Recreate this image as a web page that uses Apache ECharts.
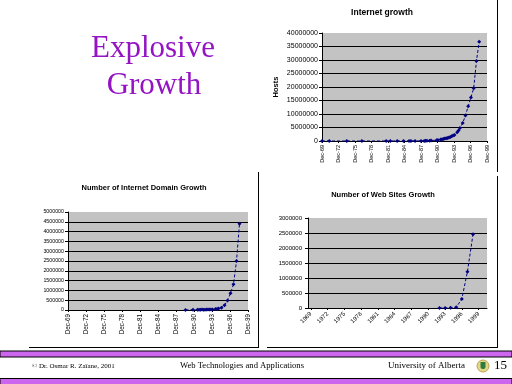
<!DOCTYPE html>
<html><head><meta charset="utf-8">
<script src="https://cdn.jsdelivr.net/npm/echarts@6/dist/echarts.min.js"></script>
<style>html,body{margin:0;padding:0;background:#fff}#c{width:512px;height:384px}</style>
</head><body><div id="c"></div>
<script>
// ---- Internet hosts (top chart) ----
const hostDates = ['1969-12','1971-04','1974-06','1977-03','1981-08','1982-05','1983-08','1984-10','1985-10','1986-02','1986-11','1987-12','1988-07','1988-10','1989-01','1989-07','1989-10','1990-10','1991-01','1991-07','1991-10','1992-01','1992-04','1992-07','1992-10','1993-01','1993-04','1993-07','1993-10','1994-01','1994-07','1994-10','1995-01','1995-07','1996-01','1996-07','1997-01','1997-07','1998-01','1998-07'];
const hostValues = [4,23,62,111,213,235,562,1024,1961,2308,5089,28174,33000,56000,80000,130000,159000,313000,376000,535000,617000,727000,890000,992000,1136000,1313000,1486000,1776000,2056000,2217000,3212000,3864000,4852000,6642000,9472000,12881000,16146000,19540000,29670000,36739000];
const dateTicks = ['Dec-69','Dec-72','Dec-75','Dec-78','Dec-81','Dec-84','Dec-87','Dec-90','Dec-93','Dec-96','Dec-99'];

// ---- Internet domains (bottom-left chart) ----
const domainDates = ['1989-07','1990-10','1991-07','1991-10','1992-01','1992-04','1992-07','1992-10','1993-01','1993-04','1993-07','1993-10','1994-01','1994-07','1994-10','1995-01','1995-07','1996-01','1996-07','1997-01','1997-07','1998-01','1998-07'];
const domainValues = [3900,9300,16000,18000,17000,20000,16300,18100,21000,22000,26000,28000,30000,46000,56000,71000,120000,240000,488000,850000,1310000,2500000,4400000];

// ---- Web sites (bottom-right chart) ----
const webYears = ['1969','1970','1971','1972','1973','1974','1975','1976','1977','1978','1979','1980','1981','1982','1983','1984','1985','1986','1987','1988','1989','1990','1991','1992','1993','1994','1995','1996','1997','1998','1999','2000'];
const webValues = [null,null,null,null,null,null,null,null,null,null,null,null,null,null,null,null,null,null,null,null,null,null,null,50,623,10022,23500,300000,1210000,2460000,null,null];

function toMonths(s){ const p = s.split('-').map(Number); return (p[0]-1969)*12 + (p[1]-12); }

const chart = echarts.init(document.getElementById('c'), null, {renderer:'canvas'});
const FONT = 'Liberation Sans';
const black = '#000';

function yAx(gi, max, interval, fs, margin, extra){
  return Object.assign({
    gridIndex: gi, type:'value', min:0, max:max, interval:interval,
    axisLine:{show:true, lineStyle:{color:black, width:1}},
    axisTick:{show:true, length:3, lineStyle:{color:black}},
    splitLine:{show:true, showMaxLine:false, lineStyle:{color:black, width:1}},
    axisLabel:{fontSize:fs, color:black, margin:margin, fontFamily:FONT, formatter:v=>String(v)}
  }, extra||{});
}
function dateX(gi, fs, margin){
  return {
    gridIndex: gi, type:'value', min:0, max:360, interval:36,
    axisLine:{show:true, lineStyle:{color:black, width:1}},
    axisTick:{show:true, length:2, lineStyle:{color:black}},
    splitLine:{show:false},
    axisLabel:{rotate:90, fontSize:fs, color:black, margin:margin, fontFamily:FONT,
      showMinLabel:true, showMaxLabel:true,
      formatter:v=>dateTicks[Math.round(v/36)]}
  };
}
function line(i, data){
  return {type:'line', xAxisIndex:i, yAxisIndex:i, data:data, symbol:'diamond', symbolSize:4,
    showSymbol:true, showAllSymbol:true, connectNulls:false,
    lineStyle:{color:'#000080', width:1, type:[3,2]}, itemStyle:{color:'#000080'}, animation:false};
}

const purple = '#cc66ee';
const graphics = [
  {type:'text', x:153, y:49, style:{text:'Explosive', font:'31px "Liberation Serif"', fill:'#9414c4', align:'center', verticalAlign:'middle'}},
  {type:'text', x:154, y:86, style:{text:'Growth', font:'31px "Liberation Serif"', fill:'#9414c4', align:'center', verticalAlign:'middle'}},
  {type:'text', x:382, y:13, style:{text:'Internet growth', font:'bold 8.5px "Liberation Sans"', fill:black, align:'center', verticalAlign:'middle'}},
  {type:'text', x:144, y:188, style:{text:'Number of Internet Domain Growth', font:'bold 7.5px "Liberation Sans"', fill:black, align:'center', verticalAlign:'middle'}},
  {type:'text', x:383, y:195, style:{text:'Number of Web Sites Growth', font:'bold 7.5px "Liberation Sans"', fill:black, align:'center', verticalAlign:'middle'}},
  // panel frames
  {type:'line', shape:{x1:497.5,y1:0,x2:497.5,y2:172}, style:{stroke:black, lineWidth:1}},
  {type:'line', shape:{x1:258.5,y1:172,x2:258.5,y2:347.5}, style:{stroke:black, lineWidth:1}},
  {type:'line', shape:{x1:497.5,y1:176,x2:497.5,y2:347.5}, style:{stroke:black, lineWidth:1}},
  {type:'line', shape:{x1:29,y1:347.5,x2:259,y2:347.5}, style:{stroke:black, lineWidth:1}},
  {type:'line', shape:{x1:267,y1:347.5,x2:498,y2:347.5}, style:{stroke:black, lineWidth:1}},
  // footer
  {type:'rect', shape:{x:0,y:351,width:512,height:6}, style:{fill:purple, stroke:black, lineWidth:1}},
  {type:'rect', shape:{x:0,y:378.5,width:512,height:6}, style:{fill:purple, stroke:black, lineWidth:1}},
  {type:'text', x:32, y:366, style:{text:'© Dr. Osmar R. Zaïane, 2001', font:'7px "Liberation Serif"', fill:black, align:'left', verticalAlign:'middle'}},
  {type:'text', x:242, y:366, style:{text:'Web Technologies and Applications', font:'8.6px "Liberation Serif"', fill:black, align:'center', verticalAlign:'middle'}},
  {type:'text', x:388, y:366, style:{text:'University of Alberta', font:'9px "Liberation Serif"', fill:black, align:'left', verticalAlign:'middle'}},
  {type:'circle', shape:{cx:483, cy:366, r:6}, style:{fill:'#e6d68a', stroke:'#b8a450', lineWidth:1}},
  {type:'rect', shape:{x:480.5, y:362, width:5, height:7, r:[0,0,2,2]}, style:{fill:'#2e7d3e'}},
  {type:'text', x:494, y:366, style:{text:'15', font:'13px "Liberation Serif"', fill:black, align:'left', verticalAlign:'middle'}}
];

const option = {
  backgroundColor:'#ffffff',
  animation:false,
  grid:[
    {left:322, top:33, width:165, height:108, show:true, backgroundColor:'#c3c3c3', borderWidth:0},
    {left:68, top:212, width:180, height:98, show:true, backgroundColor:'#c3c3c3', borderWidth:0},
    {left:308, top:218, width:179, height:90, show:true, backgroundColor:'#c3c3c3', borderWidth:0}
  ],
  xAxis:[
    dateX(0, 5.5, 4),
    dateX(1, 6.3, 4),
    {gridIndex:2, type:'category', data:webYears, boundaryGap:true,
      axisLine:{show:true, lineStyle:{color:black, width:1}},
      axisTick:{show:true, length:2, interval:2, alignWithLabel:true, lineStyle:{color:black}},
      axisLabel:{rotate:45, interval:2, fontSize:6, color:black, margin:5, fontFamily:FONT}}
  ],
  yAxis:[
    yAx(0, 40000000, 5000000, 7, 4, {name:'Hosts', nameLocation:'middle', nameGap:42, nameRotate:90,
      nameTextStyle:{fontSize:7.5, fontWeight:'bold', color:black, fontFamily:FONT}}),
    yAx(1, 5000000, 500000, 5.3, 4),
    yAx(2, 3000000, 500000, 6, 6)
  ],
  series:[
    line(0, hostDates.map((d,i)=>[toMonths(d), hostValues[i]])),
    line(1, domainDates.map((d,i)=>[toMonths(d), domainValues[i]])),
    line(2, webValues)
  ],
  graphic: graphics
};
chart.setOption(option);
</script>
</body></html>
